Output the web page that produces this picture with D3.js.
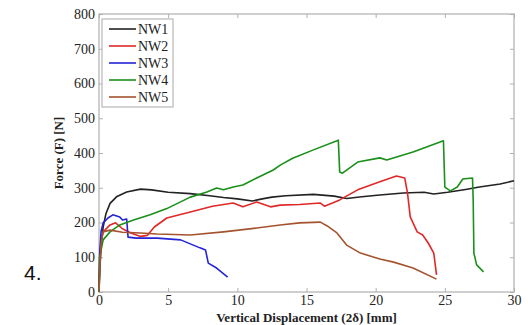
<!DOCTYPE html>
<html>
<head>
<meta charset="utf-8">
<script src="https://cdn.jsdelivr.net/npm/d3@7"></script>
<style>
  body { margin: 0; background: #fff; }
  svg { display: block; }
  .tick text { font-family: "Liberation Serif", "DejaVu Serif", serif; font-size: 14px; fill: #222; }
</style>
</head>
<body>
<div id="chart"></div>
<script>
// ---- data ----
const seriesNames = ["NW1", "NW2", "NW3", "NW4", "NW5"];
const seriesColors = ["#222222", "#e02828", "#2323d8", "#1a8f1a", "#a5532e"];

const nw1 = [[0,0],[0.05,60],[0.15,130],[0.3,187],[0.5,225],[0.8,255],[1.3,275],[2,288],[3,296],[3.8,294],[5,287],[6.6,283],[8,277],[9,272],[10,268],[11.1,262],[11.8,268],[12.5,273],[13.5,277],[15.5,281],[17,276],[17.9,269],[19,274],[20.3,279],[22,285],[23.5,287],[24.2,282],[25.2,287],[26.5,295],[27.5,302],[29,311],[30,320]];
const nw2 = [[0,0],[0.05,100],[0.15,150],[0.3,173],[0.8,193],[1.2,199],[1.7,182],[2.3,170],[3,160],[3.5,163],[4,187],[4.9,213],[6.6,230],[8.2,247],[9.7,256],[10.4,245],[11.4,259],[12.4,245],[13.1,250],[14.5,252],[16,256],[16.3,247],[17.4,265],[18.7,294],[20.3,317],[21.5,334],[22.1,328],[22.3,285],[22.5,216],[23,173],[23.4,164],[23.8,141],[24.2,112],[24.4,49]];
const nw3 = [[0,0],[0.05,110],[0.15,175],[0.3,199],[0.65,213],[1.0,222],[1.5,216],[1.7,207],[2.0,210],[2.1,158],[2.7,155],[4.2,155],[5.9,150],[7.3,127],[7.7,121],[7.9,83],[8.5,69],[9.3,43]];
const nw4 = [[0,0],[0.05,100],[0.3,150],[0.8,173],[1.5,193],[2.5,207],[3.7,222],[4.9,240],[6.6,273],[7.8,288],[8.5,299],[9.0,294],[9.7,302],[10.4,308],[11.4,328],[12.6,351],[13.1,365],[14,385],[15.5,409],[17.3,437],[17.4,345],[17.6,342],[18.7,374],[20.3,386],[20.8,380],[22.7,403],[24.9,435],[25.0,302],[25.4,291],[25.9,302],[26.3,325],[27.0,328],[27.05,265],[27.1,112],[27.3,78],[27.8,58]];
const nw5 = [[0,0],[0.1,100],[0.15,141],[0.3,173],[0.8,178],[1.7,172],[3,170],[4.2,167],[6.6,164],[9,173],[11.4,184],[13.1,193],[14.5,199],[16,201],[16.5,190],[17.2,170],[17.9,135],[18.9,112],[20.3,95],[21.3,86],[22.7,69],[24.4,37]];
const seriesData = [nw1, nw2, nw3, nw4, nw5];

const xTicks = [0, 5, 10, 15, 20, 25, 30];
const yTicks = [0, 100, 200, 300, 400, 500, 600, 700, 800];

// ---- layout ----
const W = 528, H = 325;
const plot = { left: 99, right: 514, top: 14, bottom: 292 };

const svg = d3.select("#chart").append("svg")
    .attr("width", W)
    .attr("height", H);

svg.append("rect").attr("width", W).attr("height", H).attr("fill", "#fff");

const x = d3.scaleLinear().domain([0, 30]).range([plot.left, plot.right]);
const y = d3.scaleLinear().domain([0, 800]).range([plot.bottom, plot.top]);

// frame
svg.append("rect")
    .attr("x", plot.left).attr("y", plot.top)
    .attr("width", plot.right - plot.left).attr("height", plot.bottom - plot.top)
    .attr("fill", "none").attr("stroke", "#c4c4c4").attr("stroke-width", 1.6);

// axes with inward ticks (matlab style)
svg.append("g")
    .attr("transform", "translate(0," + plot.bottom + ")")
    .call(d3.axisBottom(x).tickValues(xTicks).tickSize(-4).tickPadding(3));
svg.append("g")
    .attr("transform", "translate(" + plot.left + ",0)")
    .call(d3.axisLeft(y).tickValues(yTicks).tickSize(-4).tickPadding(4));
svg.append("g")
    .attr("transform", "translate(0," + plot.top + ")")
    .call(d3.axisTop(x).tickValues(xTicks).tickSize(-4).tickFormat(""));
svg.append("g")
    .attr("transform", "translate(" + plot.right + ",0)")
    .call(d3.axisRight(y).tickValues(yTicks).tickSize(-4).tickFormat(""));

svg.selectAll(".domain").remove();
svg.selectAll(".tick line").attr("stroke", "#b0b0b0");

// curves
const line = d3.line()
    .x(d => x(d[0]))
    .y(d => y(d[1]));

svg.append("g")
  .selectAll("path")
  .data(seriesData)
  .enter()
  .append("path")
    .attr("d", line)
    .attr("fill", "none")
    .attr("stroke", (d, i) => seriesColors[i])
    .attr("stroke-width", 1.6)
    .attr("stroke-linejoin", "round");

// legend
const lg = svg.append("g");
lg.append("rect")
    .attr("x", 102).attr("y", 19).attr("width", 71).attr("height", 88)
    .attr("fill", "#fff").attr("stroke", "#b8b8b8").attr("stroke-width", 1.2);
seriesNames.forEach((name, i) => {
  const yy = 29 + i * 17;
  lg.append("line")
      .attr("x1", 109).attr("x2", 136).attr("y1", yy).attr("y2", yy)
      .attr("stroke", seriesColors[i]).attr("stroke-width", 1.6);
  lg.append("text")
      .attr("x", 138).attr("y", yy + 5)
      .attr("font-family", "Liberation Serif, DejaVu Serif, serif")
      .attr("font-size", 14).attr("fill", "#222")
      .text(name);
});

// axis titles
svg.append("text")
    .attr("x", (plot.left + plot.right) / 2).attr("y", 322)
    .attr("text-anchor", "middle")
    .attr("font-family", "Liberation Serif, DejaVu Serif, serif")
    .attr("font-size", 13).attr("font-weight", "bold").attr("fill", "#222")
    .text("Vertical Displacement (2δ) [mm]");

svg.append("text")
    .attr("transform", "translate(63," + ((plot.top + plot.bottom) / 2) + ") rotate(-90)")
    .attr("text-anchor", "middle")
    .attr("font-family", "Liberation Serif, DejaVu Serif, serif")
    .attr("font-size", 13).attr("font-weight", "bold").attr("fill", "#222")
    .text("Force (F) [N]");

// figure number
svg.append("text")
    .attr("x", 24).attr("y", 280)
    .attr("font-family", "Liberation Sans, Arial, sans-serif")
    .attr("font-size", 21).attr("fill", "#111")
    .text("4.");
</script>
</body>
</html>
